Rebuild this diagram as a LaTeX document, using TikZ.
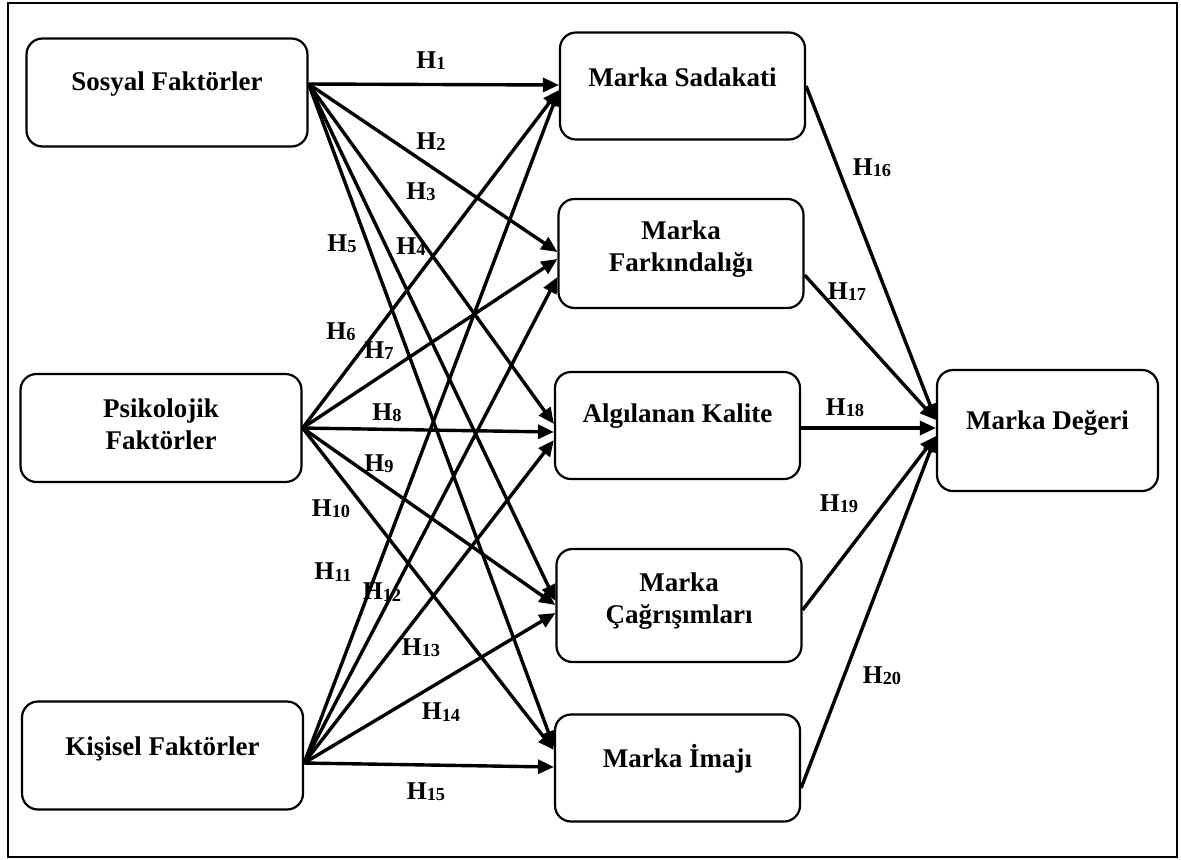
\documentclass[tikz,border=0pt]{standalone}
\usepackage{fontspec}
\setmainfont{Liberation Serif}
\usetikzlibrary{arrows.meta}
\tikzset{kutu/.style={draw, rounded corners=8pt, line width=1.1pt},
  sol/.style={kutu, minimum width=140.5pt, minimum height=54pt},
  orta/.style={kutu, minimum width=122.5pt, minimum height=53.5pt},
  sag/.style={kutu, minimum width=110.5pt, minimum height=60.5pt},
  yazi/.style={align=center, inner sep=0pt, font=\fontsize{13.5}{16}\selectfont\bfseries},
  etiket/.style={inner sep=0pt, font=\fontsize{12.8}{14}\selectfont\bfseries},
  ok/.style={line width=1.7pt, -{Triangle[length=8pt,width=7pt]}}}
\newcommand{\hip}[1]{H\raisebox{-0.6pt}{\fontsize{9.2}{9}\selectfont #1}}

\begin{document}
\begin{tikzpicture}[x=0.5pt, y=-0.5pt]
\useasboundingbox (0,0) rectangle (1181,859);
\draw[line width=1.3pt] (8,3) rectangle (1177,857);

% kutular
\node[sol] (sosyal) at (167,92.5) {};
\node[sol] (psiko) at (161,428) {};
\node[sol] (kisisel) at (162.5,755.5) {};
\node[orta] (sadakat) at (682.5,86) {};
\node[orta, minimum height=54.5pt] (farkindalik) at (681,253.5) {};
\node[orta] (kalite) at (677.5,425.5) {};
\node[orta, minimum height=56.5pt] (cagrisim) at (679,605.5) {};
\node[orta] (imaj) at (677.5,768) {};
\node[sag] (deger) at (1047.5,430.5) {};

\node[yazi] (sosyal-t) at ([yshift=4pt]sosyal.center) {Sosyal Faktörler};
\node[yazi] (psiko-t) at ([yshift=2pt]psiko.center) {Psikolojik\\Faktörler};
\node[yazi] (kisisel-t) at ([yshift=3.5pt]kisisel.center) {Kişisel Faktörler};
\node[yazi] (sadakat-t) at ([yshift=4.5pt]sadakat.center) {Marka Sadakati};
\node[yazi] (farkindalik-t) at ([yshift=2pt]farkindalik.center) {Marka\\Farkındalığı};
\node[yazi] (kalite-t) at ([yshift=4.5pt]kalite.center) {Algılanan Kalite};
\node[yazi] (cagrisim-t) at ([yshift=2pt]cagrisim.center) {Marka\\Çağrışımları};
\node[yazi] (imaj-t) at ([yshift=4.5pt]imaj.center) {Marka İmajı};
\node[yazi] (deger-t) at ([yshift=4pt]deger.center) {Marka Değeri};

% oklar
\foreach \hedef/\dy in {sadakat/0.5, farkindalik/0.75, kalite/0.75, cagrisim/2.25, imaj/10.5}
  \draw[ok] ([yshift=4.25pt]sosyal.east) -- ([yshift=\dy pt]\hedef.west);
\foreach \hedef/\dy in {sadakat/-2, farkindalik/-2.75, kalite/-3.25, cagrisim/0.25, imaj/9}
  \draw[ok] (psiko.east) -- ([yshift=\dy pt]\hedef.west);
\foreach \hedef/\dy in {sadakat/-2, farkindalik/-11.75, kalite/-7.25, cagrisim/-3.75, imaj/0.5}
  \draw[ok] ([yshift=-3.75pt]kisisel.east) -- ([yshift=\dy pt]\hedef.west);
\foreach \kaynak/\dx/\dy in {sadakat/0/5.25, farkindalik/-10.75/5.25, kalite/-1.25/1.25, cagrisim/-2.25/-2.75, imaj/-10/-2.75}
  \draw[ok] ([yshift=\dx pt]\kaynak.east) -- ([yshift=\dy pt]deger.west);

% etiketler
\node[etiket] (h1) at (431,61) {\hip{1}};
\node[etiket] (h2) at (431,142) {\hip{2}};
\node[etiket] (h3) at (421,192) {\hip{3}};
\node[etiket] (h4) at (411,247) {\hip{4}};
\node[etiket] (h5) at (342,244) {\hip{5}};
\node[etiket] (h6) at (341,332) {\hip{6}};
\node[etiket] (h7) at (379,351) {\hip{7}};
\node[etiket] (h8) at (387,413) {\hip{8}};
\node[etiket] (h9) at (379,464) {\hip{9}};
\node[etiket] (h10) at (331,509) {\hip{10}};
\node[etiket] (h11) at (333,572) {\hip{11}};
\node[etiket] (h12) at (382,592) {\hip{12}};
\node[etiket] (h13) at (421,648) {\hip{13}};
\node[etiket] (h14) at (441,712) {\hip{14}};
\node[etiket] (h15) at (426,792) {\hip{15}};
\node[etiket] (h16) at (872,168) {\hip{16}};
\node[etiket] (h17) at (847,292) {\hip{17}};
\node[etiket] (h18) at (845,408) {\hip{18}};
\node[etiket] (h19) at (839,504) {\hip{19}};
\node[etiket] (h20) at (882,676) {\hip{20}};
\end{tikzpicture}
\end{document}
